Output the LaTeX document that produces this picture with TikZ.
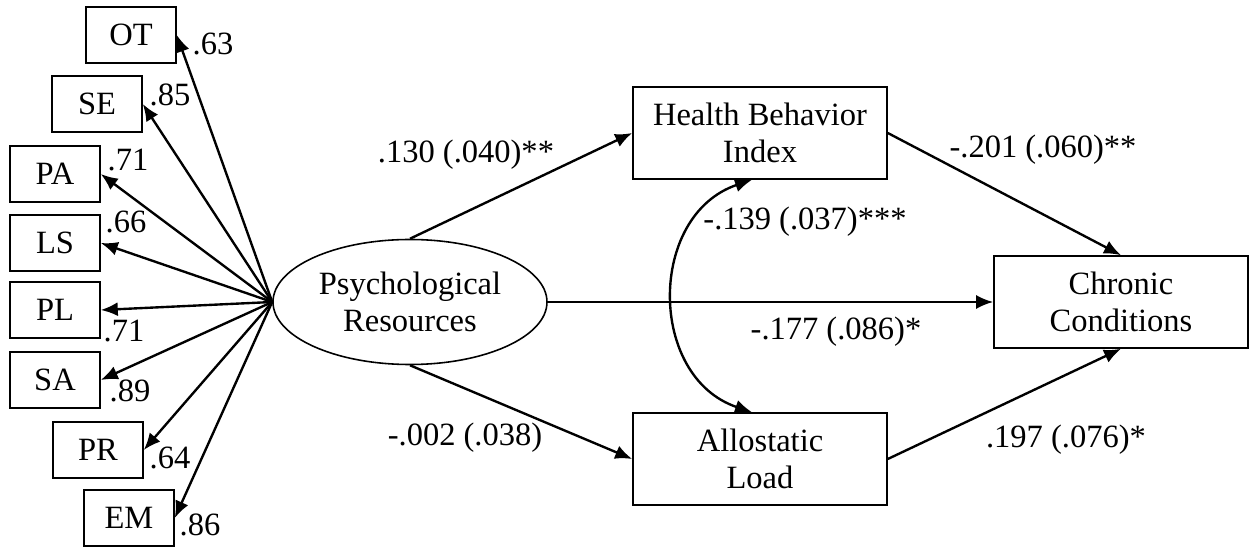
\documentclass[tikz,border=0pt]{standalone}
\usepackage{fontspec}
\setmainfont{Liberation Serif}
\usetikzlibrary{arrows.meta,shapes.geometric}
\tikzset{
    block/.style = {draw, rectangle, line width=0.9pt,
        minimum height=1.84cm,
        minimum width=5.08cm, align=center},
    indic/.style = {draw, rectangle, line width=0.9pt,
        minimum height=1.12cm, minimum width=1.8cm},
    latent/.style = {draw, ellipse, line width=0.9pt, inner sep=0pt,
        minimum height=2.5cm, minimum width=5.48cm, align=center},
    arrow/.style = {draw, ->, line width=1.35pt},
    coef/.style = {inner sep=0pt}
}

\begin{document}
\begin{tikzpicture}[font=\fontsize{18.5}{21}\selectfont, node distance=2cm, >={Latex[length=3.4mm,width=2.8mm]}]
        \useasboundingbox (-8.2,-4.96) rectangle (16.92,6.04);
        \node [latent] (psych) {Psychological\\Resources};
        \node [block] (hbi) at (7,3.38) {Health Behavior\\Index};
        \node [block, below of=hbi, node distance=6.52cm] (al) {Allostatic\\Load};
        \node [block, right of=psych, node distance=14.22cm] (cc) {Chronic\\Conditions};
        \node [indic] (ot) at (-5.58,5.34) {OT};
        \node [indic] (se) at (-6.26,3.96) {SE};
        \node [indic] (pa) at (-7.1,2.56) {PA};
        \node [indic, below of=pa, node distance=1.38cm] (ls) {LS};
        \node [indic, below of=ls, node distance=1.34cm] (pl) {PL};
        \node [indic, below of=pl, node distance=1.4cm] (sa) {SA};
        \node [indic] (pr) at (-6.24,-2.96) {PR};
        \node [indic] (em) at (-5.62,-4.32) {EM};
        \draw [arrow] (psych.west) -- (ot.east);
        \draw [arrow] (psych.west) -- (se.east);
        \draw [arrow] (psych.west) -- (pa.east);
        \draw [arrow] (psych.west) -- (ls.east);
        \draw [arrow] (psych.west) -- (pl.east);
        \draw [arrow] (psych.west) -- (sa.east);
        \draw [arrow] (psych.west) -- (pr.east);
        \draw [arrow] (psych.west) -- (em.east);
        \node [coef] (lot) at (-3.94,5.16) {.63};
        \node [coef] (lse) at (-4.8,4.14) {.85};
        \node [coef] (lpa) at (-5.64,2.84) {.71};
        \node [coef] (lls) at (-5.68,1.6) {.66};
        \node [coef] (lpl) at (-5.72,-0.58) {.71};
        \node [coef] (lsa) at (-5.6,-1.78) {.89};
        \node [coef] (lpr) at (-4.8,-3.12) {.64};
        \node [coef] (lem) at (-4.2,-4.46) {.86};
        \draw [arrow] (psych.north) -- (hbi.west);
        \draw [arrow] (psych.south) -- (al.west);
        \draw [arrow] (psych.east) -- (cc.west);
        \draw [arrow] (hbi.east) -- (cc.north);
        \draw [arrow] (al.east) -- (cc.south);
        \draw [arrow, <->] ([xshift=-0.16cm]al.north) .. controls (4.75,-1.5) and (4.75,1.74) .. ([xshift=-0.16cm]hbi.south);
        \node [coef] (phbi) at (1.12,2.94) {.130 (.040)**};
        \node [coef] (hbicc) at (12.66,3.04) {-.201 (.060)**};
        \node [coef] (cov) at (7.9,1.6) {-.139 (.037)***};
        \node [coef] (pcc) at (8.52,-0.6) {-.177 (.086)*};
        \node [coef] (pal) at (1.1,-2.72) {-.002 (.038)};
        \node [coef] (alcc) at (13.12,-2.76) {.197 (.076)*};
\end{tikzpicture}
\end{document}
